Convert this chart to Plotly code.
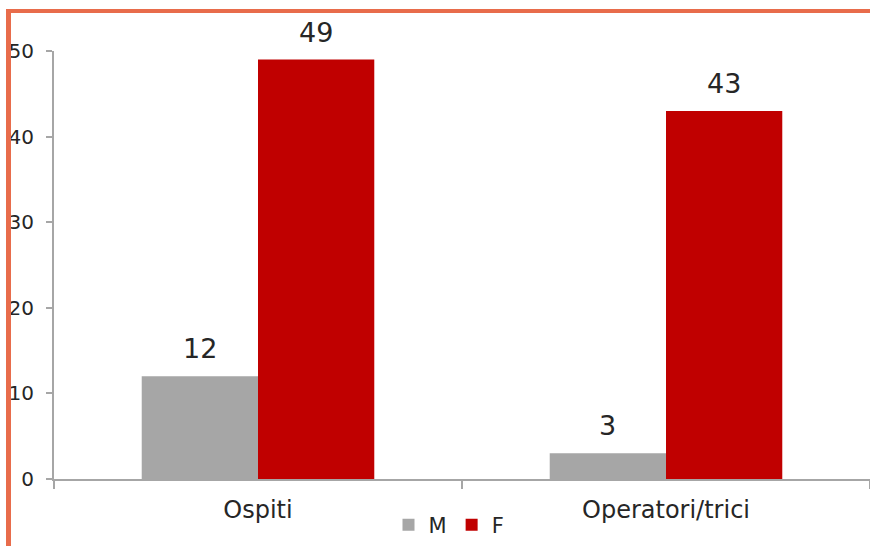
import plotly.graph_objects as go

categories = ["Ospiti", "Operatori/trici"]
series_names = ["M", "F"]
values_m = [12, 3]
values_f = [49, 43]
y_tick_values = [0, 10, 20, 30, 40, 50]

colors = {"M": "#A6A6A6", "F": "#C00000"}
FONT = "DejaVu Sans"
TXT = "#262626"
BARGAP = 0.43

fig = go.Figure()
for name, vals in zip(series_names, [values_m, values_f]):
    fig.add_trace(go.Bar(
        x=categories, y=vals, name=name,
        marker=dict(color=colors[name], line=dict(width=0)),
    ))

# data labels above bars
bar_w = (1 - BARGAP) / len(series_names)
for si, vals in enumerate([values_m, values_f]):
    offset = (si - (len(series_names) - 1) / 2) * bar_w
    for ci, v in enumerate(vals):
        fig.add_annotation(
            x=ci + offset, y=v, xref="x", yref="y", text=str(v),
            showarrow=False, yanchor="bottom", yshift=10,
            font=dict(family=FONT, size=27, color=TXT),
        )

W, H = 870, 546
L, R, T, B = 54, 0, 51, 67
pw, ph = W - L - R, H - T - B

def px_x(px):
    return (px - L) / pw

def px_y(py):
    return (H - B - py) / ph

border = "#E86C4B"
fig.add_shape(type="line", xref="paper", yref="paper",
              x0=px_x(6), x1=px_x(W + 2), y0=px_y(11), y1=px_y(11),
              line=dict(color=border, width=4))
fig.add_shape(type="line", xref="paper", yref="paper",
              x0=px_x(8.5), x1=px_x(8.5), y0=px_y(9), y1=px_y(H + 4),
              line=dict(color=border, width=5))

fig.update_layout(
    width=W, height=H,
    margin=dict(l=L, r=R, t=T, b=B),
    paper_bgcolor="white", plot_bgcolor="white",
    barmode="group", bargap=BARGAP, bargroupgap=0,
    font=dict(family=FONT, color=TXT),
    legend=dict(orientation="h", x=px_x(449), y=px_y(525),
                xanchor="center", yanchor="middle",
                font=dict(family=FONT, size=21, color=TXT),
                itemwidth=30, bgcolor="rgba(0,0,0,0)"),
    xaxis=dict(
        showline=True, linecolor="#A6A6A6", linewidth=2,
        ticks="outside", tickson="boundaries", ticklen=8,
        tickcolor="#A6A6A6", tickwidth=2,
        showgrid=False, ticklabelstandoff=8,
        tickfont=dict(family=FONT, size=24, color=TXT),
    ),
    yaxis=dict(
        range=[0, 50], tickvals=y_tick_values,
        showline=True, linecolor="#A6A6A6", linewidth=2,
        ticks="outside", ticklen=6, tickcolor="#A6A6A6", tickwidth=2,
        showgrid=False, zeroline=False, ticklabelstandoff=8,
        tickfont=dict(family=FONT, size=20, color=TXT),
    ),
)

fig.write_html("out.html",
               config={"displayModeBar": False},
               post_script="document.body.style.margin='0';")
